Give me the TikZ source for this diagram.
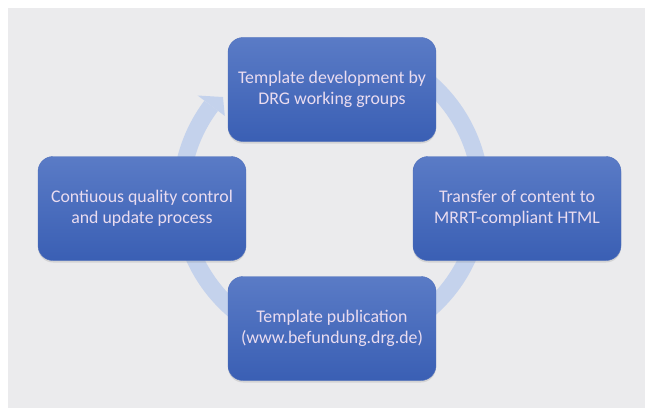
\documentclass[tikz,border=0pt]{standalone}
\usepackage{fontspec}
\setmainfont{Carlito}
\usetikzlibrary{shadows,calc}
\definecolor{bggray}{HTML}{EBEBED}
\definecolor{boxtop}{HTML}{5A7BC6}
\definecolor{boxbot}{HTML}{3A5FB4}
\definecolor{ringblue}{HTML}{C4D2EC}
\definecolor{txtcol}{HTML}{EADCF0}
\tikzset{
  stagebox/.style={rectangle, rounded corners=15pt, minimum width=208pt, minimum height=104pt,
    top color=boxtop, bottom color=boxbot, draw=boxbot!90!white, line width=0.4pt,
    text=txtcol, align=center, font=\fontsize{17.8}{20.5}\selectfont,
    drop shadow={shadow xshift=0pt, shadow yshift=-2pt, opacity=0.18, fill=black!60}},
  ringline/.style={draw=ringblue, line width=17pt},
}
\begin{document}
\begin{tikzpicture}[x=1pt,y=1pt]
\useasboundingbox (0,0) rectangle (645,408);
\fill[white] (0,0) rectangle (645,408);
\fill[bggray] (8,0) rectangle (645,400);
% ring
\coordinate (c) at (331,212);
\draw[ringline] (c) ++(90:150) arc[start angle=90, end angle=-217, radius=150];
\fill[ringblue] ($(c)+(143:133)$) -- ($(c)+(137.5:146.5)$) -- ($(c)+(143:167)$) -- cycle;
% boxes
\node[stagebox] (top) at (332,318.5) {Template development by\\DRG working groups};
\node[stagebox] (right) at (517,199.5) {Transfer of content to\\MRRT-compliant HTML};
\node[stagebox] (bottom) at (332,79.5) {Template publication\\(www.befundung.drg.de)};
\node[stagebox] (left) at (142,199.5) {Contiuous quality control\\and update process};
\end{tikzpicture}
\end{document}
